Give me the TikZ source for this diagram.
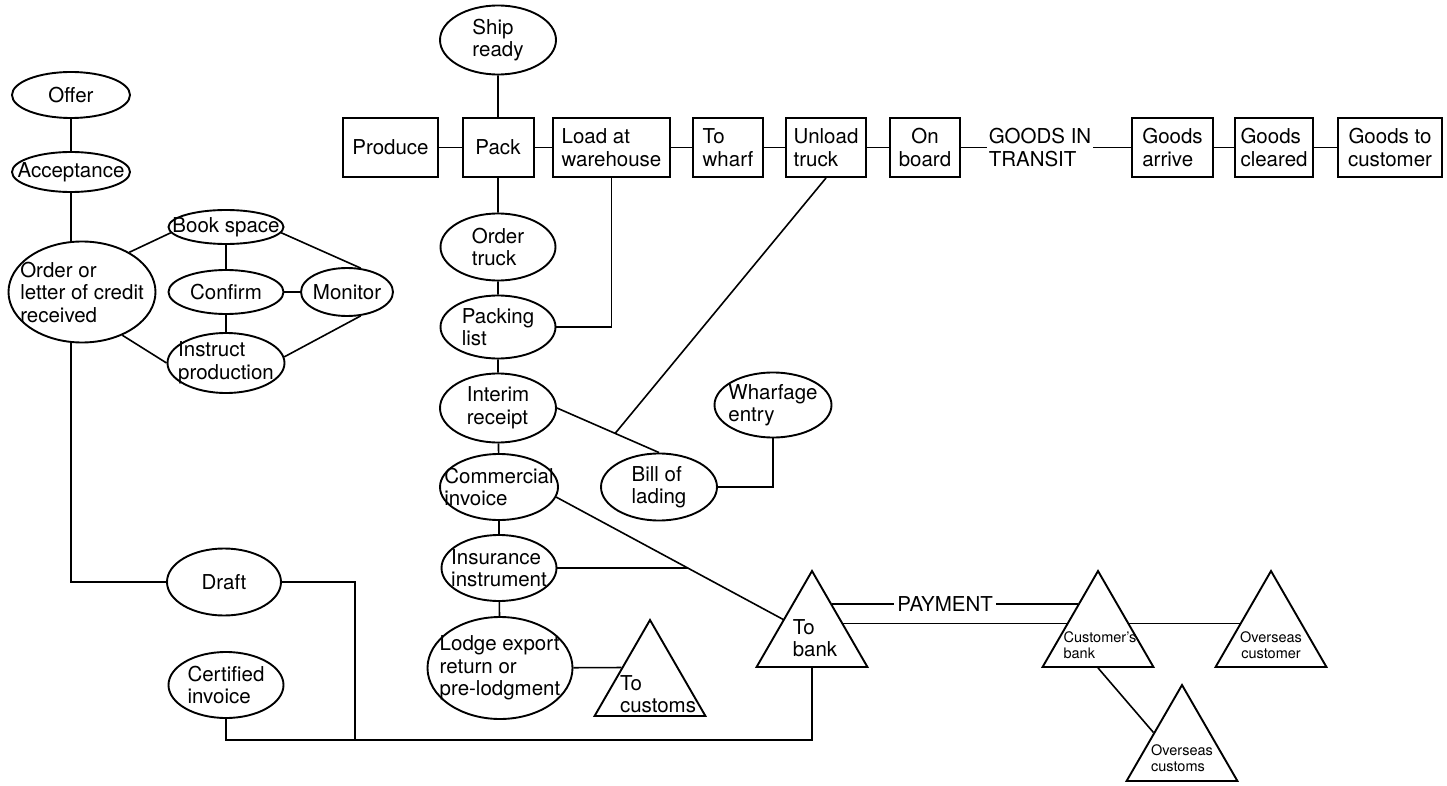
\documentclass[tikz,border=0pt]{standalone}
\usepackage{fontspec}
\setmainfont{TeX Gyre Heros}
\usetikzlibrary{shapes.geometric,calc}

\begin{document}
\begin{tikzpicture}[x=1pt,y=-1pt,line width=1.6pt,
    font=\fontsize{20.5}{22.5}\selectfont,
    oval/.style 2 args={ellipse,draw,line width=1.9pt,align=left,
        inner xsep=-16pt,inner ysep=0pt,minimum width=#1,minimum height=#2},
    box/.style={rectangle,draw,line width=2pt,align=left,inner sep=2pt,
        minimum width=#1,minimum height=59pt},
    tri/.style={regular polygon,regular polygon sides=3,draw,line width=1.9pt,
        inner sep=0pt,minimum size=128pt},
    trilabel/.style={align=left,inner sep=0pt},
    small/.style={font=\fontsize{14.5}{16}\selectfont},
    paylabel/.style={fill=white,inner sep=3pt}]%
    \useasboundingbox (0,0) rectangle (1447,786);
    % ordering side
    \node[oval={118pt}{46pt}] (offer) at (71,95) {Offer};
    \node[oval={118pt}{40pt}] (accept) at (71,172) {Acceptance};
    \node[oval={147pt}{101pt}] (order) at (82,292) {Order or\\letter of credit\\received};
    \node[oval={115pt}{34pt}] (book) at (226,227) {Book space};
    \node[oval={115pt}{44pt}] (confirm) at (226,292) {Confirm};
    \node[oval={92pt}{48pt}] (monitor) at (347,292) {Monitor};
    \node[oval={117pt}{60pt}] (instr) at (226,363) {Instruct\\production};
    \node[oval={114pt}{67pt}] (draft) at (224,582) {Draft};
    \node[oval={115pt}{66pt}] (cert) at (226,685) {Certified\\invoice};
    % documents
    \node[oval={116pt}{69pt}] (ship) at (498,40) {Ship\\ready};
    \node[oval={115pt}{67pt}] (otruck) at (498,247) {Order\\truck};
    \node[oval={115pt}{63pt}] (plist) at (498,327) {Packing\\list};
    \node[oval={116pt}{69pt}] (inter) at (498,408) {Interim\\receipt};
    \node[oval={118pt}{66pt}] (cinv) at (499,487) {Commercial\\invoice};
    \node[oval={115pt}{66pt}] (ins) at (499,568) {Insurance\\instrument};
    \node[oval={145pt}{102pt}] (lodge) at (500,668) {Lodge export\\return or\\pre-lodgment};
    \node[oval={116pt}{67pt}] (bill) at (659,487) {Bill of\\lading};
    \node[oval={117pt}{65pt}] (wharf) at (773,405) {Wharfage\\entry};
    % goods flow
    \node[box=95pt] (produce) at (390.5,147.5) {Produce};
    \node[box=71pt] (pack) at (498,147.5) {Pack};
    \node[box=117pt] (load) at (611.5,147.5) {Load at\\warehouse};
    \node[box=70pt] (towharf) at (728,147.5) {To\\wharf};
    \node[box=80pt] (unload) at (826,147.5) {Unload\\truck};
    \node[box=70pt,align=center] (onboard) at (925,147.5) {On\\board};
    \node[align=left,inner sep=1pt] (transit) at (1040,147.5) {GOODS IN\\TRANSIT};
    \node[box=81pt] (garrive) at (1172.5,147.5) {Goods\\arrive};
    \node[box=78pt] (gclear) at (1274,147.5) {Goods\\cleared};
    \node[box=104pt,align=center] (gcust) at (1390,147.5) {Goods to\\customer};
    % parties
    \node[tri] (tocust) at (650,684) {};
    \node[tri] (tobank) at (812,635) {};
    \node[tri] (cbank) at (1098,635) {};
    \node[tri] (ocust) at (1271,635) {};
    \node[tri] (ocustoms) at (1182,749) {};
    \node[trilabel] (tocust-t) at ([shift={(8,10)}]tocust.center) {To\\customs};
    \node[trilabel] (tobank-t) at ([shift={(3,3)}]tobank.center) {To\\bank};
    \node[trilabel,small] (cbank-t) at ([shift={(2,10)}]cbank.center) {Customer's\\bank};
    \node[trilabel,small,align=center] (ocust-t) at ([shift={(0,10)}]ocust.center) {Overseas\\customer};
    \node[trilabel,small] (ocustoms-t) at ([shift={(0,9)}]ocustoms.center) {Overseas\\customs};
    % connectors
    \draw (offer) -- (accept);
    \draw (accept.south) -- (accept.south |- order.north);
    \draw (order.40) -- (book.186);
    \draw (order.-47) -- (instr.west);
    \draw (book) -- (confirm) -- (instr);
    \draw (confirm) -- (monitor);
    \draw (book.-6) -- (monitor.60);
    \draw (instr.6) -- (monitor.-60);
    \draw (order.south -| accept.south) |- (draft);
    \coordinate (jn) at (355,740);
    \draw (draft) -| (jn);
    \draw (cert) |- (jn) -| (tobank);
    \draw (produce) -- (pack) -- (load) -- (towharf) -- (unload) -- (onboard) -- (transit)
        -- (garrive) -- (gclear) -- (gcust);
    \draw (ship) -- (pack) -- (otruck) -- (plist) -- (inter) -- (cinv) -- (ins) -- (lodge);
    \draw (load) |- (plist);
    \draw (inter.east) -- (bill.north);
    \draw (unload.south) -- ($(inter.east)!0.57!(bill.north)$);
    \draw (bill) -| (wharf);
    \draw (cinv.-10) -- (tobank);
    \coordinate (insj) at ($(cinv.-10)!0.515!(tobank.center)$);
    \draw (ins.east) -- (ins.east -| insj);
    \draw (lodge) -- (tocust.side 1);
    \draw ($(tobank.corner 1)!0.35!(tobank.corner 3)$) -- node[paylabel,pos=0.46] (pay) {PAYMENT}
        ($(cbank.corner 1)!0.35!(cbank.corner 2)$);
    \draw ($(tobank.corner 1)!0.55!(tobank.corner 3)$) -- ($(cbank.corner 1)!0.55!(cbank.corner 2)$);
    \draw ($(cbank.corner 1)!0.55!(cbank.corner 3)$) -- ($(ocust.corner 1)!0.55!(ocust.corner 2)$);
    \draw (cbank.side 2) -- (ocustoms.side 1);
\end{tikzpicture}
\end{document}
